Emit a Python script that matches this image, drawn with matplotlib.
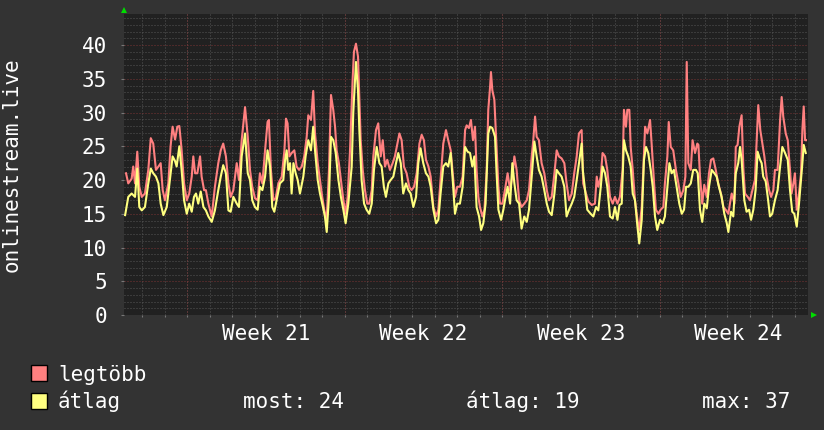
import numpy as np
import matplotlib
matplotlib.use("Agg")
from matplotlib import pyplot as plt
from matplotlib.patches import Rectangle

# time axis in days from the left edge of the graph
max_days = [
    0.09, 0.19, 0.34, 0.41, 0.49, 0.59, 0.68, 0.79, 0.93, 1.08,
    1.19, 1.30, 1.42, 1.53, 1.63, 1.72, 1.82, 1.97, 2.07, 2.16,
    2.27, 2.37, 2.46, 2.56, 2.67, 2.79, 2.90, 3.01, 3.08, 3.16,
    3.26, 3.38, 3.45, 3.56, 3.64, 3.75, 3.90, 4.04, 4.19, 4.30,
    4.41, 4.53, 4.64, 4.74, 4.86, 5.01,
    5.11, 5.23, 5.38, 5.50, 5.60, 5.70, 5.82, 5.94, 6.04, 6.15,
    6.27, 6.38, 6.44, 6.53, 6.64, 6.74, 6.86, 7.01, 7.13, 7.20,
    7.27, 7.35, 7.45, 7.57, 7.67, 7.78, 7.90, 8.01, 8.12, 8.19,
    8.31, 8.41, 8.49, 8.61, 8.71, 8.81, 8.90, 9.01, 9.11, 9.20,
    9.30, 9.38, 9.45, 9.55, 9.64, 9.75, 9.85, 9.94, 10.04,
    10.16, 10.22, 10.31, 10.40, 10.46, 10.52, 10.61, 10.71, 10.81, 10.90,
    11.01, 11.08, 11.20, 11.30, 11.41, 11.50, 11.60, 11.70, 11.82, 11.94,
    12.04, 12.15, 12.24, 12.34, 12.44, 12.56, 12.68, 12.78, 12.89, 13.01,
    13.13, 13.23, 13.33, 13.42, 13.53, 13.63, 13.75, 13.87, 13.97, 14.07,
    14.19, 14.31, 14.41, 14.52, 14.61, 14.71, 14.81, 14.93, 15.05, 15.16,
    15.23, 15.33, 15.42, 15.51, 15.60, 15.67, 15.75, 15.82, 15.93, 16.02,
    16.12, 16.19, 16.27, 16.31, 16.37, 16.46, 16.56, 16.64, 16.71, 16.82,
    16.93, 17.05, 17.16, 17.26, 17.35, 17.45, 17.56, 17.67, 17.79, 17.90,
    18.00, 18.12, 18.19, 18.27, 18.34, 18.44, 18.56, 18.68, 18.79, 18.89,
    19.01, 19.13, 19.23, 19.33, 19.45, 19.57, 19.67, 19.78, 19.90, 20.01,
    20.12, 20.22, 20.34,
    20.41, 20.53, 20.64, 20.79, 20.93, 21.01, 21.08, 21.19, 21.27, 21.38,
    21.48, 21.60, 21.72, 21.82, 21.93, 22.04, 22.16, 22.22, 22.31, 22.37,
    22.46, 22.52, 22.61, 22.71, 22.82, 22.90, 23.01, 23.08, 23.16, 23.26,
    23.38, 23.45, 23.56, 23.64, 23.75, 23.85, 23.97, 24.04, 24.15, 24.21,
    24.30, 24.41, 24.53, 24.64, 24.74, 24.86, 24.95, 25.01, 25.08, 25.19,
    25.27, 25.38, 25.48,
    25.53, 25.60, 25.70, 25.79, 25.90, 26.00, 26.09, 26.19, 26.30, 26.41,
    26.53, 26.64, 26.74, 26.86, 26.93, 27.01, 27.13, 27.19, 27.27, 27.35,
    27.45, 27.53, 27.60, 27.72, 27.82, 27.93, 28.04, 28.12, 28.19, 28.28,
    28.37, 28.46, 28.56, 28.67, 28.76, 28.86, 28.93, 29.05, 29.16, 29.23,
    29.30, 29.41, 29.50, 29.60, 29.67, 29.75, 29.82, 29.90, 30.00, 30.09,
    30.15, 30.21, 30.27, 30.31,
]
legtobb = [
    21.0, 19.5, 20.2, 22, 19.5, 24.2, 19, 17.5, 18, 21.5,
    26.2, 25.4, 21.5, 22, 22.5, 18.5, 17, 19.5, 25, 27.9,
    26, 27.9, 28, 24.5, 19.5, 17, 18, 20.5, 23.5, 21,
    21, 23.5, 20.5, 18.5, 18.5, 16.5, 14.6, 19, 22.5, 24.4,
    25.4, 23.5, 19.5, 17.5, 18.5, 22.5,
    20, 25.9, 30.8, 26.4, 21.5, 19, 17.3, 17, 21, 19.5,
    24.4, 28.6, 28.9, 21.5, 17, 17.3, 19.5, 20.5, 24.4, 29.1,
    28.4, 23.5, 24, 24.4, 22, 21.5, 22, 23.5, 26.4, 29.6,
    28.9, 33.2, 26.9, 22.5, 20, 17.5, 15.6, 14.1, 21.5, 32.6,
    30.4, 27.9, 24.4, 22.5, 20, 17, 15, 17.5, 24,
    34.8, 39, 40.2, 38.3, 32.3, 25.9, 21.5, 18.5, 16.5, 16.5,
    18.5, 23.5, 27.4, 28.4, 23.5, 25.9, 22, 23, 21.5, 22.5,
    23.5, 25.4, 26.9, 25.9, 22, 21, 19, 18.5, 19, 21,
    25.4, 26.7, 25.9, 23, 22, 20.5, 16, 14.6, 15.6, 20,
    25.4, 27.4, 25.9, 24.4, 21, 17.5, 19, 19, 20.5, 27.4,
    28.1, 27.7, 28.9, 25.9, 27.9, 21.5, 17.5, 16, 14.6, 15.6,
    21.5, 30.4, 33.8, 36, 33.3, 31.9, 24.9, 19, 16.5, 16.5,
    18.5, 21, 18.5, 20.5, 23.5, 21.5, 17, 16, 16.5, 17,
    18.5, 23.5, 25.9, 29.4, 26.4, 25.9, 22.5, 21, 18.5, 17,
    17.5, 21, 24.4, 23.5, 23.2, 22.5, 19.5, 17, 18, 21,
    23.5, 26.9, 27.4,
    19.5, 18, 16.8, 16.3, 16.5, 20.5, 19, 20.5, 24, 23.5,
    21.5, 17.5, 16.5, 17.5, 16.5, 17.5, 21.5, 30.4, 27.9, 30.4,
    30.4, 24.9, 21.5, 17, 14.1, 12.6, 16, 21.5, 27.9, 26.9,
    28.9, 25.4, 19.5, 15.6, 15, 15.6, 16, 19.5, 23.5, 28.6,
    24.9, 24.4, 21.5, 19.5, 17.5, 18.5, 20.5, 37.5, 22.5, 21.5,
    25.9, 24, 25.4,
    25.2, 20.5, 16.5, 19.3, 17.5, 21, 23, 23.2, 21.5, 19.5,
    18, 16, 15.6, 15, 16.5, 18, 16.5, 24.9, 25.2, 27.9,
    29.6, 21.5, 18, 17.5, 17, 18.5, 20, 25.9, 31.1, 27.4,
    25.4, 23.5, 20.5, 18.5, 17.5, 18.5, 21.5, 21.5, 28.9, 32.3,
    29.4, 26.9, 25.9, 21.5, 18, 19.5, 21, 15.6, 18, 21,
    27.4, 30.9, 25.9, 25.9,
]

avg_days = [
    0.05, 0.19, 0.34, 0.49, 0.59, 0.68, 0.79, 0.93, 1.08, 1.19,
    1.30, 1.42, 1.53, 1.63, 1.75, 1.90, 2.04, 2.16, 2.27, 2.34,
    2.46, 2.56, 2.67, 2.79, 2.90, 3.01, 3.11, 3.20, 3.30, 3.41,
    3.53, 3.64, 3.75, 3.90, 4.04, 4.19, 4.30, 4.41, 4.53, 4.64,
    4.74, 4.86, 5.01,
    5.11, 5.23, 5.38, 5.50, 5.60, 5.70, 5.82, 5.94, 6.04, 6.15,
    6.27, 6.38, 6.49, 6.59, 6.68, 6.78, 6.93, 7.08, 7.16, 7.23,
    7.30, 7.38, 7.45, 7.53, 7.63, 7.72, 7.82, 7.97, 8.07, 8.19,
    8.31, 8.41, 8.49, 8.61, 8.71, 8.81, 8.93, 9.01, 9.11, 9.20,
    9.30, 9.41, 9.53, 9.64, 9.75, 9.85, 9.97,
    10.12, 10.19, 10.31, 10.40, 10.46, 10.56, 10.67, 10.78, 10.90, 11.01,
    11.11, 11.23, 11.35, 11.45, 11.55, 11.64, 11.75, 11.85, 11.97, 12.09,
    12.19, 12.30, 12.41, 12.53, 12.64, 12.74, 12.86, 12.98, 13.08, 13.18,
    13.30, 13.42, 13.53, 13.63, 13.75, 13.87, 13.97, 14.07, 14.19, 14.31,
    14.41, 14.52, 14.61, 14.71, 14.81, 14.93, 15.05, 15.16,
    15.27, 15.38, 15.48, 15.57, 15.67, 15.78, 15.87, 15.97, 16.07, 16.19,
    16.27, 16.37, 16.49, 16.56, 16.64, 16.76, 16.86, 16.96, 17.05, 17.16,
    17.26, 17.35, 17.45, 17.56, 17.67, 17.79, 17.90, 18.00, 18.12, 18.24,
    18.34, 18.44, 18.56, 18.68, 18.79, 18.89, 19.01, 19.13, 19.23, 19.33,
    19.45, 19.57, 19.67, 19.78, 19.90, 20.01, 20.12, 20.22, 20.34,
    20.39, 20.49, 20.59, 20.74, 20.86, 20.98, 21.08, 21.19, 21.27, 21.38,
    21.48, 21.60, 21.72, 21.82, 21.93, 22.02, 22.12, 22.22, 22.31, 22.41,
    22.52, 22.61, 22.71, 22.82, 22.90, 23.01, 23.11, 23.20, 23.30, 23.41,
    23.50, 23.60, 23.70, 23.82, 23.94, 24.04, 24.15, 24.24, 24.34, 24.44,
    24.56, 24.68, 24.79, 24.89, 24.98, 25.08, 25.19, 25.30, 25.42,
    25.50, 25.60, 25.70, 25.79, 25.90, 26.00, 26.12, 26.24, 26.34, 26.44,
    26.56, 26.68, 26.79, 26.86, 26.98, 27.08, 27.19, 27.30, 27.38, 27.45,
    27.57, 27.67, 27.78, 27.87, 27.97, 28.07, 28.16, 28.27, 28.34, 28.41,
    28.52, 28.61, 28.71, 28.81, 28.93, 29.05, 29.16, 29.26, 29.38, 29.50,
    29.60, 29.70, 29.79, 29.90, 30.00, 30.09, 30.15, 30.21, 30.30,
]
atlag = [
    14.8, 17.5, 18, 17.5, 21.7, 16, 15.5, 16, 19.5, 21.7,
    21, 20.5, 19.5, 16.5, 14.8, 16, 20, 23.5, 22.8, 22,
    25, 21.5, 17, 15, 16.5, 15.3, 17.5, 18, 16.5, 18.3,
    16, 15.5, 14.6, 13.8, 15.5, 18.5, 20.5, 22.2, 21, 15.5,
    15.3, 17.5, 16.5,
    16, 23.5, 26.9, 21, 20, 17, 16, 15.6, 19, 18.5,
    20.5, 24.4, 22, 16, 15.3, 17, 19.5, 20, 23, 24.4,
    21.5, 22.5, 18, 22.5, 21, 20, 18, 20.5, 23.5, 25.9,
    24.4, 27.9, 24.4, 20, 18, 16.5, 14.6, 12.3, 17.5, 26.4,
    25.9, 24, 20, 17.5, 15.6, 13.6, 16.5,
    22, 30, 37.5, 33.3, 27.4, 20, 16.5, 15.6, 15, 16.5,
    21.5, 24.9, 22.5, 22, 19, 17.5, 19.5, 20, 20.5, 22.5,
    24, 22.5, 18, 19.5, 18.5, 18, 16, 17.5, 22.5, 24.7,
    22.5, 21, 20.5, 19, 15.6, 13.6, 14.1, 18, 22, 22.5,
    22, 24, 20, 15, 16.5, 16.5, 19, 24.9,
    24.2, 24, 22, 23.5, 16, 14.6, 12.6, 13.6, 16.5, 26.9,
    27.9, 27.7, 26.4, 21, 15.6, 14.1, 15.6, 17.5, 19, 16.5,
    22.5, 19.5, 17, 16.5, 12.8, 14.6, 13.8, 15.6, 20.5, 25.7,
    23.5, 21.5, 20.5, 18.5, 16.5, 15.3, 14.8, 18, 21.5, 21,
    20.5, 19, 14.6, 15.6, 16.5, 17.5, 20, 22.5, 25.4,
    21.5, 18.5, 15.6, 15, 14.6, 16, 15.5, 19, 22, 21,
    19, 14.6, 14.3, 16, 14.1, 16.3, 16.5, 25.9, 24.4, 23.5,
    22, 18, 17, 13.1, 10.6, 14.1, 23, 24.9, 24, 21.5,
    19, 14.6, 12.6, 14.1, 13.6, 14.6, 19, 22.5, 21, 21.5,
    19, 16.5, 15, 15.6, 19, 19, 19.5, 21.5, 21.5,
    21, 15.6, 13.8, 16.5, 15.8, 19, 21.5, 21, 20.5, 19,
    17.5, 15, 13.6, 12.3, 15.3, 14.6, 21, 22.5, 24.9, 23,
    17, 15.3, 15.6, 14.1, 15.6, 18.5, 24.2, 23, 22.5, 20.5,
    19.8, 17.5, 14.6, 15, 17, 18.5, 22, 24.9, 24, 23,
    18.5, 15.3, 15, 13.1, 16.5, 20, 22.5, 25.2, 24,
]

week_starts = [2.8, 9.8, 16.8, 23.8]
week_names = ['Week 21', 'Week 22', 'Week 23', 'Week 24']
series_names = ['legtöbb', 'átlag']
gprint = [('most', 24), ('átlag', 19), ('max', 37)]

CANVAS = '#333333'
BACK = '#212121'
MINOR = '#555555'
MAJOR = '#7a3434'
RED = '#ff8080'
YELLOW = '#ffff80'
W, H = 824, 430

plt.rcParams['font.family'] = ['DejaVu Sans Mono']

fig = plt.figure(figsize=(W / 100, H / 100), dpi=100, facecolor=CANVAS)
ax = fig.add_axes([124 / W, 115 / H, 684 / W, 301 / H])
ax.set_facecolor(BACK)
ax.set_xlim(0, 30.4)
ax.set_ylim(0, 44.6)

dots = (0, (1, 2))
for d in np.arange(0.8, 30.4, 1.0):
    ax.axvline(d, color=MINOR, lw=0.72, ls=dots, zorder=1)
for v in range(1, 45):
    if v % 5:
        ax.axhline(v, color=MINOR, lw=0.72, ls=dots, zorder=1)
for v in range(5, 45, 5):
    ax.axhline(v, color=MAJOR, lw=0.72, ls=dots, zorder=1)
for w in week_starts:
    ax.axvline(w, color=MAJOR, lw=0.72, ls=dots, zorder=1)

ax.plot(max_days, legtobb, color=RED, lw=1.5, zorder=3)
ax.plot(avg_days, atlag, color=YELLOW, lw=1.5, zorder=4)

for s in ax.spines.values():
    s.set_visible(False)
ax.set_yticks(range(0, 45, 5))
ax.set_yticklabels([str(v) for v in range(0, 45, 5)], color='white', fontsize=15)
ax.tick_params(axis='y', length=2.2, color='#777777', pad=10)
ax.set_xticks(np.arange(0.8, 30.4, 1.0))
ax.set_xticklabels([])
ax.tick_params(axis='x', length=1.5, color='#777777')

for w, name in zip(week_starts, week_names):
    ax.text(w + 3.5, -0.063, name, transform=ax.get_xaxis_transform(),
            ha='center', va='center', color='white', fontsize=15)

# axis arrows
ax.plot([0], [1.013], marker='^', color='#00dd00', ms=5, mew=0,
        transform=ax.transAxes, clip_on=False)
ax.plot([1.0088], [0], marker='>', color='#00dd00', ms=5, mew=0,
        transform=ax.transAxes, clip_on=False)

fig.text(12 / W, 1 - 165 / H, 'onlinestream.live', rotation=90,
         ha='center', va='center', color='white', fontsize=15)

# legend
for i, (name, col) in enumerate(zip(series_names, [RED, YELLOW])):
    base = 381 + 27.5 * i
    fig.patches.append(Rectangle((31 / W, 1 - base / H), 16 / W, 16 / H,
                                 transform=fig.transFigure, facecolor=col,
                                 edgecolor='black', lw=1))
    fig.text(58 / W, 1 - base / H, name, va='baseline', color='white', fontsize=15)

for x0, (lab, val) in zip([243, 466, 702], gprint):
    fig.text(x0 / W, 1 - 408.5 / H, f'{lab}: {val}', va='baseline',
             color='white', fontsize=15)

fig.savefig('out.png', dpi=100, facecolor=CANVAS)
